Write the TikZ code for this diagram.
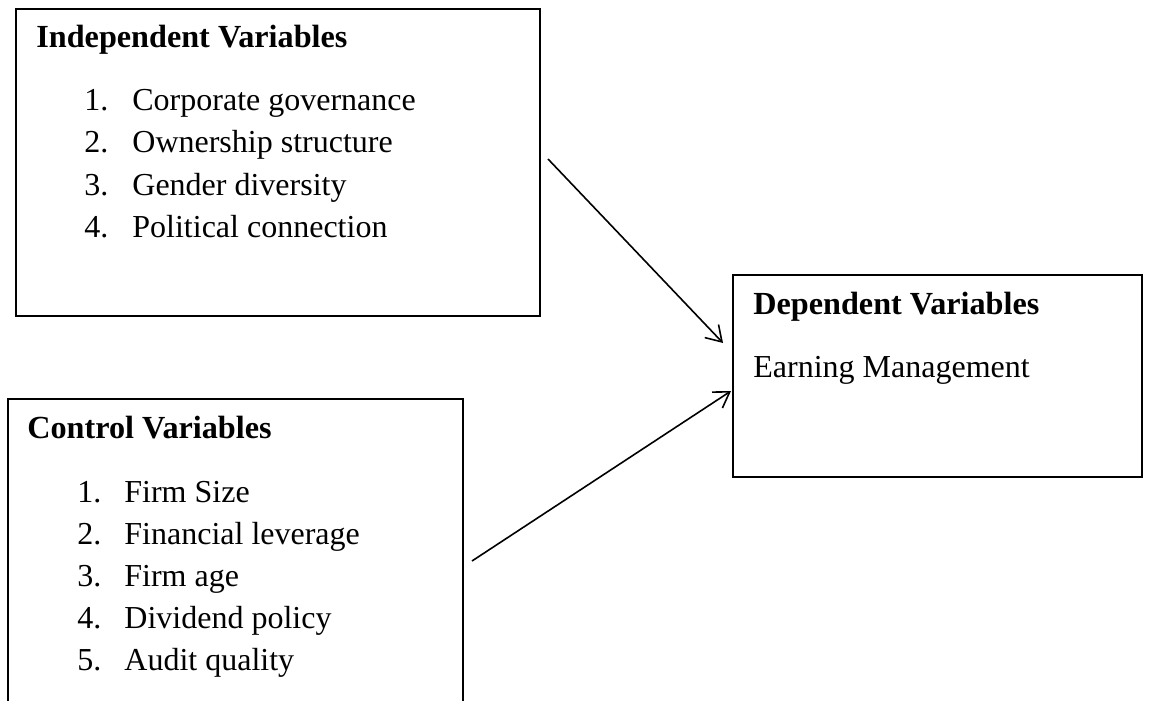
\documentclass[tikz,border=0pt]{standalone}
\usepackage{fontspec}
\setmainfont{Liberation Serif}
\usetikzlibrary{arrows.meta}
\begin{document}
\begin{tikzpicture}[x=0.5pt,y=-0.5pt,
  boxline/.style={draw=black, line width=0.8pt},
  txt/.style={inner sep=0pt, anchor=base west, font=\fontsize{16}{19}\selectfont},
  ttl/.style={txt, font=\fontsize{16.1}{19}\selectfont\bfseries},
  conn/.style={line width=0.8pt, -{Straight Barb[length=7.5pt,width=9.5pt,line width=0.8pt]}}]
\useasboundingbox (0,0) rectangle (1156,701);
% Independent box
\node[boxline, anchor=north west, minimum width=262pt, minimum height=153.5pt, inner sep=0pt] (indep) at (15,8) {};
\node[ttl] (indepT) at (36,48) {Independent Variables};
\node[txt] (i1n) at (84,111) {1.};
\node[txt] (i1) at (132,111) {Corporate governance};
\node[txt] (i2n) at (84,153) {2.};
\node[txt] (i2) at (132,153) {Ownership structure};
\node[txt] (i3n) at (84,195) {3.};
\node[txt] (i3) at (132,195) {Gender diversity};
\node[txt] (i4n) at (84,237) {4.};
\node[txt] (i4) at (132,237) {Political connection};
% Dependent box
\node[boxline, anchor=north west, minimum width=204.5pt, minimum height=101pt, inner sep=0pt] (dep) at (732,274) {};
\node[ttl] (depT) at (753,314) {Dependent Variables};
\node[txt] (d1) at (753,377) {Earning Management};
% Control box (bottom cut off)
\coordinate (cbl) at (8,701);
\coordinate (ctl) at (8,399);
\coordinate (ctr) at (463,399);
\coordinate (cbr) at (463,701);
\draw[boxline] (cbl) -- (ctl) -- (ctr) -- (cbr);
\node[ttl] (ctrlT) at (27,438) {Control Variables};
\node[txt] (c1n) at (77,502) {1.};
\node[txt] (c1) at (124,502) {Firm Size};
\node[txt] (c2n) at (77,544) {2.};
\node[txt] (c2) at (124,544) {Financial leverage};
\node[txt] (c3n) at (77,586) {3.};
\node[txt] (c3) at (124,586) {Firm age};
\node[txt] (c4n) at (77,628) {4.};
\node[txt] (c4) at (124,628) {Dividend policy};
\node[txt] (c5n) at (77,670) {5.};
\node[txt] (c5) at (124,670) {Audit quality};
% Arrows
\coordinate (a1s) at (548,159);
\coordinate (a1e) at (723,343);
\coordinate (a2s) at (472,561);
\coordinate (a2e) at (731,391);
\draw[conn] (a1s) -- (a1e);
\draw[conn] (a2s) -- (a2e);
\end{tikzpicture}
\end{document}
